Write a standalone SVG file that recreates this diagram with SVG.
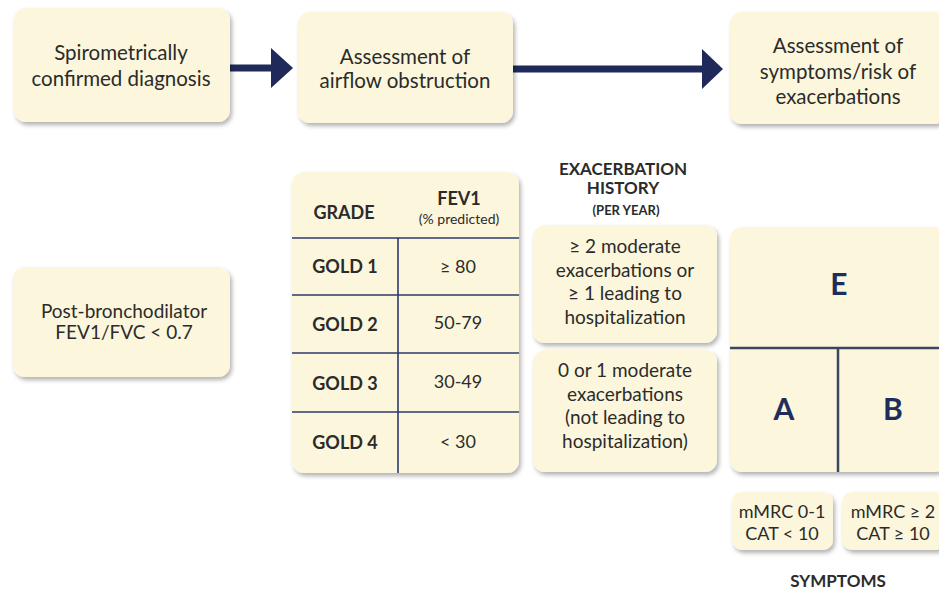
<svg xmlns="http://www.w3.org/2000/svg" width="939" height="590" viewBox="0 0 939 590">
<defs>
<filter id="sh" x="-10%" y="-10%" width="130%" height="130%">
<feDropShadow dx="2" dy="3" stdDeviation="2" flood-color="#000" flood-opacity="0.3"/>
</filter>
<style>
.box{fill:#fcf7dc;filter:url(#sh);}
.t{font-family:Lato,"Open Sans","Liberation Sans",sans-serif;fill:#2b2b2b;text-anchor:middle;}
.r20{font-size:20.5px;}
.r19{font-size:19px;}
.r18{font-size:18px;}
.b{font-weight:bold;}
.big{font-family:Lato,"Open Sans","Liberation Sans",sans-serif;font-weight:bold;font-size:30px;fill:#1f2d5c;text-anchor:middle;}
.ln{stroke:#2e3a6e;stroke-width:1.6;fill:none;}
.ln2{stroke:#3b4661;stroke-width:2.5;fill:none;}
.arr{stroke:#1f2a5a;stroke-width:7;fill:none;}
.head{fill:#1f2a5a;}
</style>
</defs>
<rect width="939" height="590" fill="#ffffff"/>

<g id="connectors">
<line class="arr" x1="230" y1="68" x2="274" y2="68"/>
<polygon class="head" points="271,48 293,68 271,88"/>
<line class="arr" x1="513" y1="69" x2="704" y2="69"/>
<polygon class="head" points="702,49 723,69 702,89"/>
</g>

<g id="diagnosis">
<rect class="box" x="14" y="8" width="216" height="114" rx="12"/>
<text class="t r20" x="121" y="60">Spirometrically</text>
<text class="t r20" x="121" y="86">confirmed diagnosis</text>
</g>

<g id="airflow">
<rect class="box" x="298" y="12" width="215" height="111" rx="12"/>
<text class="t r20" x="405" y="64">Assessment of</text>
<text class="t r20" x="405" y="88">airflow obstruction</text>
</g>

<g id="symptoms-risk">
<rect class="box" x="730" y="12" width="216" height="112" rx="12"/>
<text class="t r20" x="838" y="53">Assessment of</text>
<text class="t r20" x="838" y="79">symptoms/risk of</text>
<text class="t r20" x="838" y="104">exacerbations</text>
</g>

<g id="post-bronchodilator">
<rect class="box" x="13" y="267" width="217" height="110" rx="12"/>
<text class="t r19" x="124" y="318">Post-bronchodilator</text>
<text class="t r19" x="124" y="339">FEV1/FVC &lt; 0.7</text>
</g>

<g id="gold-table">
<rect class="box" x="292" y="172" width="227" height="301" rx="12"/>
<line class="ln" x1="292" y1="238" x2="519" y2="238"/>
<line class="ln" x1="292" y1="295" x2="519" y2="295"/>
<line class="ln" x1="292" y1="353" x2="519" y2="353"/>
<line class="ln" x1="292" y1="412" x2="519" y2="412"/>
<line class="ln" x1="398" y1="238" x2="398" y2="473"/>
<text class="t r18 b" x="344" y="219">GRADE</text>
<text class="t r18 b" x="459" y="205">FEV1</text>
<text class="t" style="font-size:14px" x="459" y="224">(% predicted)</text>
<text class="t r18 b" x="345" y="273">GOLD 1</text>
<text class="t r18" x="458" y="273">≥ 80</text>
<text class="t r18 b" x="345" y="331">GOLD 2</text>
<text class="t r18" x="458" y="329">50-79</text>
<text class="t r18 b" x="345" y="390">GOLD 3</text>
<text class="t r18" x="458" y="388">30-49</text>
<text class="t r18 b" x="345" y="449">GOLD 4</text>
<text class="t r18" x="458" y="448">&lt; 30</text>
</g>

<g id="exacerbation-heading">
<text class="t b" style="font-size:17px" x="623" y="175">EXACERBATION</text>
<text class="t b" style="font-size:17px" x="623" y="194">HISTORY</text>
<text class="t b" style="font-size:13px" x="626" y="215">(PER YEAR)</text>
</g>

<g id="exac-high">
<rect class="box" x="533" y="225" width="184" height="118" rx="12"/>
<text class="t r19" x="625" y="253">≥ 2 moderate</text>
<text class="t r19" x="625" y="277">exacerbations or</text>
<text class="t r19" x="625" y="300">≥ 1 leading to</text>
<text class="t r19" x="625" y="324">hospitalization</text>
</g>

<g id="exac-low">
<rect class="box" x="533" y="350" width="184" height="122" rx="12"/>
<text class="t r19" x="625" y="377">0 or 1 moderate</text>
<text class="t r19" x="625" y="401">exacerbations</text>
<text class="t r19" x="625" y="424">(not leading to</text>
<text class="t r19" x="625" y="448">hospitalization)</text>
</g>

<g id="abe-grid">
<rect class="box" x="730" y="227" width="216" height="245" rx="12"/>
<line class="ln2" x1="730" y1="348" x2="946" y2="348"/>
<line class="ln2" x1="838" y1="348" x2="838" y2="472"/>
<text class="big" x="839" y="295">E</text>
<text class="big" x="784" y="420">A</text>
<text class="big" x="893" y="420">B</text>
</g>

<g id="symptoms-low">
<rect class="box" x="732" y="492" width="101" height="58" rx="10"/>
<text class="t r18" x="782" y="518">mMRC 0-1</text>
<text class="t r18" x="782" y="540">CAT &lt; 10</text>
</g>

<g id="symptoms-high">
<rect class="box" x="842" y="492" width="104" height="58" rx="10"/>
<text class="t r18" x="893" y="518">mMRC ≥ 2</text>
<text class="t r18" x="893" y="540">CAT ≥ 10</text>
</g>

<g id="symptoms-label">
<text class="t b" style="font-size:17px" x="838" y="587">SYMPTOMS</text>
</g>
</svg>
